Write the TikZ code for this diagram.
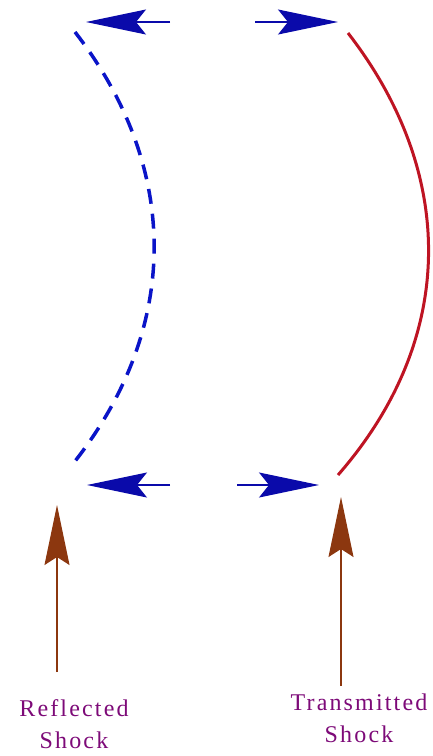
\documentclass[tikz,border=0pt]{standalone}
\usepackage{fontspec}
\setmainfont{Liberation Serif}
\newfontfamily\labelfont[LetterSpace=9]{Liberation Serif}
\usetikzlibrary{arrows.meta}
\definecolor{arrblue}{RGB}{10,10,170}
\definecolor{shockred}{RGB}{190,20,35}
\definecolor{shockblue}{RGB}{10,20,200}
\definecolor{brownarr}{RGB}{140,55,15}
\definecolor{labpurple}{RGB}{125,10,120}
\tikzset{
  flowarrow/.style={draw=arrblue, line width=1.3pt, -{Stealth[length=60pt,width=25pt,inset=10pt]}},
  pointer/.style={draw=brownarr, line width=1.3pt, -{Stealth[length=60pt,width=25pt,inset=8pt]}},
  shocklabel/.style={text=labpurple, font=\labelfont\fontsize{24}{32}\selectfont, align=center, inner sep=0pt},
}
\begin{document}
\begin{tikzpicture}[x=1pt,y=-1pt]
\useasboundingbox (0,0) rectangle (432,756);
% flow arrows
\coordinate (tlS) at (170,22); \coordinate (tlE) at (86,22);
\coordinate (trS) at (255,22); \coordinate (trE) at (338,22);
\coordinate (blS) at (170,485); \coordinate (blE) at (87,485);
\coordinate (brS) at (237,485); \coordinate (brE) at (319,485);
\draw[flowarrow] (tlS) -- (tlE);
\draw[flowarrow] (trS) -- (trE);
\draw[flowarrow] (blS) -- (blE);
\draw[flowarrow] (brS) -- (brE);
% shocks
\coordinate (bT) at (75,32); \coordinate (bB) at (72,465);
\coordinate (rT) at (348,33); \coordinate (rB) at (338,475);
\draw[shockblue, line width=3.5pt, dash pattern=on 15pt off 10pt] (bT) .. controls (182,170) and (180,330) .. (bB);
\draw[shockred, line width=3pt] (rT) .. controls (458,175) and (456,340) .. (rB);
% labels
\node[shocklabel] (refl) at (74,724) {Reflected\\Shock};
\node[shocklabel] (trans) at (359,718) {Transmitted\\Shock};
% pointers
\coordinate (plS) at (57,672); \coordinate (plE) at (57,505);
\coordinate (prS) at (341,686); \coordinate (prE) at (341,497);
\draw[pointer] (plS) -- (plE);
\draw[pointer] (prS) -- (prE);
\end{tikzpicture}
\end{document}
